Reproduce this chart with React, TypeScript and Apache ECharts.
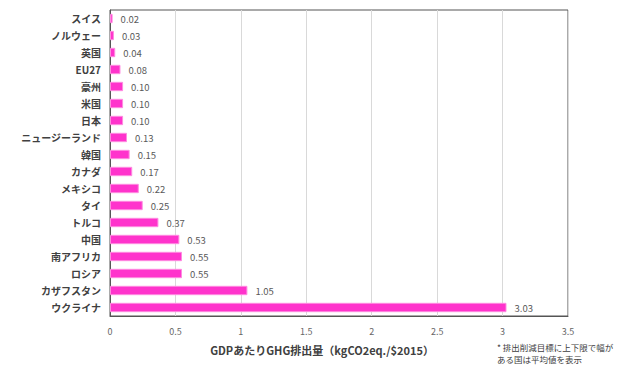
import React, { useEffect, useRef } from "react";
import * as echarts from "echarts";

const categories = [
  "スイス", "ノルウェー", "英国", "EU27", "豪州", "米国", "日本",
  "ニュージーランド", "韓国", "カナダ", "メキシコ", "タイ", "トルコ",
  "中国", "南アフリカ", "ロシア", "カザフスタン", "ウクライナ",
];
const values = [
  0.02, 0.03, 0.04, 0.08, 0.1, 0.1, 0.1, 0.13, 0.15, 0.17, 0.22, 0.25,
  0.37, 0.53, 0.55, 0.55, 1.05, 3.03,
];
const axisName = "GDPあたりGHG排出量（kgCO2eq./$2015）";
const noteLines = ["* 排出削減目標に上下限で幅が", "ある国は平均値を表示"];

const FONT = "'Noto Sans CJK JP', 'Noto Sans', sans-serif";

export default function App() {
  const ref = useRef<HTMLDivElement>(null);
  useEffect(() => {
    const chart = echarts.init(ref.current!, null, { renderer: "svg" });
    chart.setOption({
      animation: false,
      textStyle: { fontFamily: FONT },
      grid: {
        left: 110,
        right: 54,
        top: 10,
        bottom: 51,
        show: true,
        borderColor: "#555",
        borderWidth: 1,
      },
      xAxis: {
        type: "value",
        min: 0,
        max: 3.5,
        interval: 0.5,
        axisLine: { show: true, lineStyle: { color: "#555" } },
        axisTick: { show: false },
        splitLine: { show: true, lineStyle: { color: "#d9d9d9" } },
        axisLabel: { color: "#666", fontSize: 9, margin: 11, fontFamily: FONT },
        name: axisName,
        nameLocation: "middle",
        nameGap: 28,
        nameTextStyle: {
          color: "#404040",
          fontSize: 11,
          fontWeight: "bold",
          fontFamily: FONT,
          padding: [0, 34, 0, 0],
        },
      },
      yAxis: {
        type: "category",
        data: categories,
        inverse: true,
        axisLine: { show: true, lineStyle: { color: "#555" } },
        axisTick: { show: false },
        axisLabel: { color: "#404040", fontSize: 10, fontWeight: "bold", margin: 9, fontFamily: FONT },
      },
      series: [
        {
          type: "bar",
          data: values,
          barWidth: "55%",
          itemStyle: { color: "#ff33cc", borderColor: "#ff8ae0", borderWidth: 1 },
          label: {
            show: true,
            position: "right",
            distance: 8,
            color: "#595959",
            fontSize: 9.5,
            fontFamily: FONT,
            formatter: (p: any) => p.value.toFixed(2),
          },
        },
      ],
      graphic: noteLines.map((line, i) => ({
        type: "text",
        left: 497,
        top: 343 + i * 12,
        style: {
          text: line,
          fontSize: 8.5,
          fill: "#404040",
          fontFamily: FONT,
        },
      })),
    });
    return () => chart.dispose();
  }, []);
  return (
    <div
      ref={ref}
      style={{ position: "absolute", left: 0, top: 0, width: 622, height: 367 }}
    />
  );
}
